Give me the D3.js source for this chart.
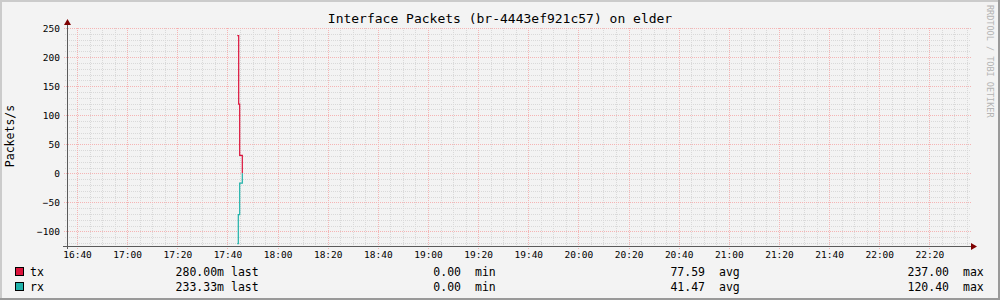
<!DOCTYPE html>
<html>
<head>
<meta charset="utf-8">
<script src="https://cdn.jsdelivr.net/npm/d3@7"></script>
<style>
    html, body { margin: 0; padding: 0; background: #f3f3f3; }
    svg { display: block; font-family: 'DejaVu Sans Mono', monospace; }
</style>
</head>
<body>
<svg id="chart" width="1000" height="300"></svg>
<script>
// === Data ===
const seriesNames = ['tx', 'rx'];
const seriesColors = ['#dc143c', '#20b2aa'];

// tx plotted upward, rx plotted downward (negated)
const txTimes = ['17:43:56', '17:44:29', '17:44:53', '17:45:56'];
const txValues = [237, 119, 31, 0];
const rxTimes = ['17:43:56', '17:44:20', '17:44:53', '17:45:56'];
const rxValues = [121, 71, 17, 0];

const legendLast = ['280.00m', '233.33m'];
const legendMin = ['0.00', '0.00'];
const legendAvg = ['77.59', '41.47'];
const legendMax = ['237.00', '120.40'];

const timeStart = '16:36:00';
const timeEnd = '22:35:00';
const yMin = -125;
const yMax = 250;
const yMajorTicks = [-100, -50, 0, 50, 100, 150, 200, 250];

// === Layout ===
const W = 1000, H = 300;
const plot = { left: 67, right: 967, top: 28, bottom: 246 };
const parseTime = d3.timeParse('%H:%M:%S');

const svg = d3.select('#chart');

// background + 3d-ish frame
svg.append('rect').attr('width', W).attr('height', H).attr('fill', '#f3f3f3');
svg.append('path').attr('d', `M0,${H} V0 H${W}`).attr('fill', 'none')
    .attr('stroke', '#cbcbcb').attr('stroke-width', 4);
svg.append('path').attr('d', `M0,${H} H${W} V0`).attr('fill', 'none')
    .attr('stroke', '#999999').attr('stroke-width', 4);

const x = d3.scaleTime()
    .domain([parseTime(timeStart), parseTime(timeEnd)])
    .range([plot.left, plot.right]);

const y = d3.scaleLinear()
    .domain([yMin, yMax])
    .range([plot.bottom, plot.top]);

const px = v => Math.round(v) + 0.5;

// === Grid ===
const grid = svg.append('g').attr('shape-rendering', 'crispEdges');
const minorColor = '#d9d9d9';
const majorColor = '#f5b4b4';

const yMinorTicks = d3.range(-120, yMax + 1, 10).filter(v => v % 50 !== 0);
grid.selectAll('.ymin').data(yMinorTicks).enter().append('line')
    .attr('x1', plot.left - 2).attr('x2', plot.right + 3)
    .attr('y1', d => px(y(d))).attr('y2', d => px(y(d)))
    .attr('stroke', minorColor).attr('stroke-dasharray', '1,1');

const xMinorTicks = x.ticks(d3.timeMinute.every(5)).filter(d => d.getMinutes() % 20 !== 0);
grid.selectAll('.xmin').data(xMinorTicks).enter().append('line')
    .attr('x1', d => px(x(d))).attr('x2', d => px(x(d)))
    .attr('y1', plot.top).attr('y2', plot.bottom + 2)
    .attr('stroke', minorColor).attr('stroke-dasharray', '1,1');

grid.selectAll('.ymaj').data(yMajorTicks).enter().append('line')
    .attr('x1', plot.left - 3).attr('x2', plot.right + 4)
    .attr('y1', d => px(y(d))).attr('y2', d => px(y(d)))
    .attr('stroke', majorColor).attr('stroke-dasharray', '1,1');

const xMajorTicks = x.ticks(d3.timeMinute.every(20));
grid.selectAll('.xmaj').data(xMajorTicks).enter().append('line')
    .attr('x1', d => px(x(d))).attr('x2', d => px(x(d)))
    .attr('y1', plot.top).attr('y2', plot.bottom + 3)
    .attr('stroke', majorColor).attr('stroke-dasharray', '1,1');

// === Series (step lines) ===
const stepLine = d3.line()
    .x(d => x(d.t))
    .y(d => y(d.v))
    .curve(d3.curveStepAfter);

const txData = txTimes.map((t, i) => ({ t: parseTime(t), v: txValues[i] }));
const rxData = rxTimes.map((t, i) => ({ t: parseTime(t), v: -rxValues[i] }));

[txData, rxData].forEach((data, i) => {
    svg.append('path')
        .datum(data)
        .attr('d', stepLine)
        .attr('fill', 'none')
        .attr('stroke', seriesColors[i])
        .attr('stroke-width', 1.2);
});

// === Axes lines + arrows ===
const axisG = svg.append('g').attr('shape-rendering', 'crispEdges');
axisG.append('line')
    .attr('x1', plot.left - 4).attr('x2', plot.right + 4)
    .attr('y1', px(plot.bottom)).attr('y2', px(plot.bottom))
    .attr('stroke', '#5a5a5a');
axisG.append('line')
    .attr('x1', px(plot.left)).attr('x2', px(plot.left))
    .attr('y1', plot.bottom + 3).attr('y2', plot.top - 4)
    .attr('stroke', '#5a5a5a');

svg.append('path')
    .attr('d', `M${plot.right + 10},${px(plot.bottom)} L${plot.right + 4},${px(plot.bottom) - 3.5} L${plot.right + 4},${px(plot.bottom) + 3.5} Z`)
    .attr('fill', '#7f0000');
svg.append('path')
    .attr('d', `M${px(plot.left)},${plot.top - 9} L${px(plot.left) - 3.5},${plot.top - 3} L${px(plot.left) + 3.5},${plot.top - 3} Z`)
    .attr('fill', '#7f0000');

// === Tick labels ===
const xAxis = d3.axisBottom(x)
    .tickValues(xMajorTicks)
    .tickFormat(d3.timeFormat('%H:%M'))
    .tickSize(0)
    .tickPadding(5);

svg.append('g')
    .attr('transform', `translate(0,${plot.bottom})`)
    .call(xAxis)
    .call(g => g.select('.domain').remove())
    .selectAll('text')
    .attr('font-family', "'DejaVu Sans Mono', monospace")
    .attr('font-size', '9.5px')
    .attr('fill', '#000');

const yAxis = d3.axisLeft(y)
    .tickValues(yMajorTicks)
    .tickFormat(d3.format('d'))
    .tickSize(0)
    .tickPadding(7);

svg.append('g')
    .attr('transform', `translate(${plot.left},0)`)
    .call(yAxis)
    .call(g => g.select('.domain').remove())
    .selectAll('text')
    .attr('font-family', "'DejaVu Sans Mono', monospace")
    .attr('font-size', '9.5px')
    .attr('fill', '#000');

// === Titles ===
svg.append('text')
    .attr('x', 500).attr('y', 23)
    .attr('text-anchor', 'middle')
    .attr('font-size', '13px')
    .attr('fill', '#000')
    .text('Interface Packets (br-4443ef921c57) on elder');

svg.append('text')
    .attr('transform', 'translate(14,136) rotate(-90)')
    .attr('text-anchor', 'middle')
    .attr('font-size', '11.5px')
    .attr('fill', '#000')
    .text('Packets/s');

svg.append('text')
    .attr('transform', 'translate(987,5) rotate(90)')
    .attr('text-anchor', 'start')
    .attr('font-size', '8.5px')
    .attr('fill', '#b4b4b4')
    .text('RRDTOOL / TOBI OETIKER');

// === Legend ===
const rowY = [272, 286.5];
const legend = svg.append('g').attr('font-size', '11.5px').attr('fill', '#000');

seriesNames.forEach((name, i) => {
    const cy = rowY[i];
    legend.append('rect')
        .attr('x', 15.5).attr('y', cy - 4.5)
        .attr('width', 8).attr('height', 8)
        .attr('fill', seriesColors[i])
        .attr('stroke', '#000').attr('stroke-width', 1)
        .attr('shape-rendering', 'crispEdges');

    const put = (tx, txt, anchor) => legend.append('text')
        .attr('x', tx).attr('y', cy)
        .attr('dy', '0.35em')
        .attr('text-anchor', anchor)
        .text(txt);

    put(30, name, 'start');
    put(224, legendLast[i], 'end');
    put(231, 'last', 'start');
    put(461, legendMin[i], 'end');
    put(475, 'min', 'start');
    put(705, legendAvg[i], 'end');
    put(719, 'avg', 'start');
    put(949, legendMax[i], 'end');
    put(963, 'max', 'start');
});
</script>
</body>
</html>
